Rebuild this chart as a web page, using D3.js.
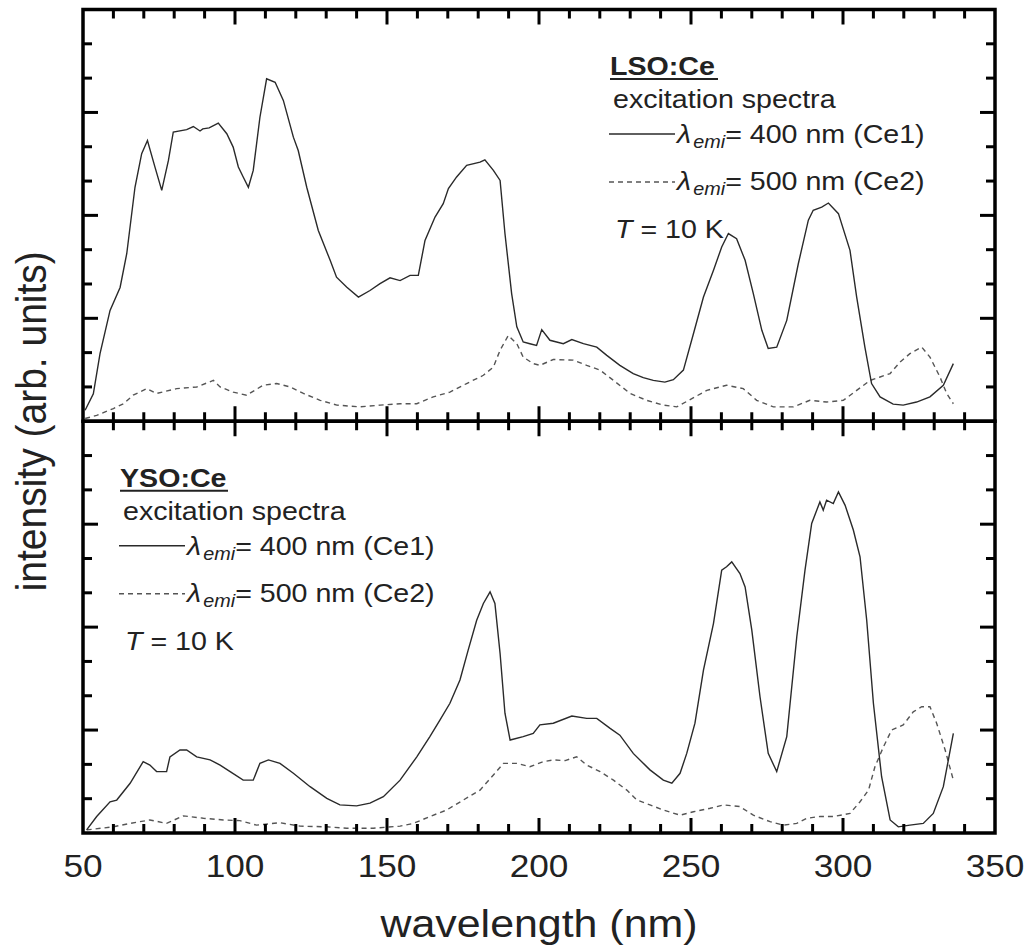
<!DOCTYPE html>
<html>
<head>
<meta charset="utf-8">
<script src="https://cdn.jsdelivr.net/npm/d3@7"></script>
<style>
  html, body { margin: 0; padding: 0; background: #fff; }
  svg { display: block; }
  text { font-family: "Liberation Sans", Arial, sans-serif; fill: #222; }
</style>
</head>
<body>
<svg id="chart" width="1031" height="947"></svg>
<script>
// ---------------- data (wavelength nm, intensity arb. units) ----------------
const xTickLabels = [50, 100, 150, 200, 250, 300, 350];

const lsoCe1 = [[50.7,0.32],[53.4,0.8],[55.6,1.97],[58.9,3.23],[62.2,3.9],[64.4,4.89],[67.1,6.82],[69.3,7.8],[71.2,8.18],[73.7,7.4],[75.9,6.73],[78.1,7.6],[79.7,8.43],[84.1,8.5],[86.3,8.59],[88.5,8.46],[89.4,8.52],[91.5,8.55],[94.5,8.69],[97.3,8.38],[99.4,7.99],[101.1,7.41],[102.7,7.12],[104.4,6.82],[106,7.31],[108.2,8.86],[110.4,9.98],[113.2,9.88],[115.9,9.35],[119.2,8.28],[120.8,7.89],[123.6,6.82],[127.4,5.56],[131.3,4.69],[133.4,4.2],[136.7,3.91],[140.6,3.62],[144.4,3.81],[147.7,4.01],[151,4.18],[154.3,4.1],[157.6,4.25],[160.3,4.25],[162.5,5.27],[165.8,5.95],[168.5,6.34],[170.2,6.78],[172.9,7.12],[176.2,7.46],[180.6,7.55],[182.2,7.62],[185,7.31],[187.2,7.02],[188.8,5.47],[191,3.72],[192.7,2.75],[194.8,2.31],[197,2.26],[199.2,2.21],[200.9,2.67],[203.6,2.36],[208,2.26],[210.8,2.38],[214.6,2.26],[219,2.16],[222.3,1.92],[226.6,1.63],[231,1.39],[234.3,1.27],[237.6,1.19],[241.4,1.14],[244.2,1.21],[247.5,1.49],[250.8,2.55],[254.1,3.62],[257.4,4.4],[260.1,5.08],[262.3,5.47],[265,5.32],[267.8,4.69],[270.5,3.72],[273.3,2.65],[275.4,2.12],[278.2,2.16],[281.5,2.94],[285.3,4.59],[288.6,5.86],[290.2,6.15],[293,6.24],[295.2,6.36],[298.5,6.05],[302.3,4.98],[304.5,3.62],[307.2,2.16],[309.4,1.1],[312.2,0.71],[316.5,0.5],[319.8,0.47],[324.2,0.56],[328.6,0.71],[333,1.05],[336.3,1.68]];

const lsoCe2 = [[50.7,0.08],[54.5,0.17],[60,0.37],[63.3,0.51],[66.5,0.76],[71,0.95],[74.2,0.81],[80.8,0.95],[87.4,1.0],[92.9,1.19],[95.1,1.0],[99.4,0.85],[103.8,0.76],[109.3,1.05],[113.7,1.1],[118.1,1.0],[122.5,0.81],[128,0.61],[133.5,0.47],[141.1,0.42],[147.7,0.47],[154.3,0.51],[159.8,0.51],[165.2,0.71],[170.7,0.85],[176.2,1.1],[181.7,1.34],[185,1.58],[187.2,2.07],[189.9,2.5],[192.7,2.26],[194.8,1.87],[198.1,1.68],[200.3,1.63],[204.7,1.8],[211.3,1.78],[215.7,1.63],[220.1,1.49],[224.5,1.19],[230,0.81],[235.4,0.61],[240.9,0.47],[245.3,0.42],[249.7,0.63],[255.2,0.9],[261.7,1.05],[267.2,0.95],[271.6,0.61],[277.1,0.42],[283.7,0.42],[289.1,0.61],[294.6,0.56],[300.1,0.61],[304.5,0.9],[308.9,1.19],[312.2,1.29],[315.5,1.39],[318.8,1.73],[322,1.97],[325.9,2.16],[328.6,1.87],[331.9,1.29],[334.1,0.81],[336.3,0.51]];

const ysoCe1 = [[51.2,0.09],[54.5,0.48],[58.9,0.91],[61.1,0.96],[65.5,1.45],[69.8,2.08],[72,1.98],[74.2,1.79],[77.5,1.79],[78.6,2.22],[81.9,2.42],[84.1,2.42],[87.4,2.22],[91.8,2.13],[95.1,1.98],[98.4,1.79],[102.7,1.54],[106,1.54],[108.2,2.03],[111,2.13],[114.8,2.03],[119.2,1.74],[124.7,1.35],[130.2,1.01],[134.5,0.82],[140,0.79],[144.4,0.87],[148.8,1.06],[154.3,1.54],[159.8,2.22],[164.1,2.81],[167.4,3.29],[170.7,3.78],[174,4.46],[176.7,5.33],[179.5,6.2],[181.7,6.69],[183.9,7.03],[185.5,6.69],[187.2,5.23],[188.8,3.49],[190.5,2.71],[194.8,2.81],[198.1,2.9],[200.3,3.15],[204.7,3.2],[210.8,3.41],[215.7,3.34],[219,3.34],[223.4,3.05],[226.6,2.85],[231,2.32],[236.5,1.84],[240.9,1.54],[243.7,1.45],[246.4,1.74],[248.6,2.32],[251.3,3.2],[254.1,4.75],[257.4,6.11],[260.1,7.66],[261.7,7.76],[263.4,7.9],[266.1,7.56],[267.8,7.17],[270,5.91],[272.7,3.97],[275.4,2.32],[278.2,1.79],[281.5,2.81],[284.8,5.72],[287.5,7.66],[289.7,9.02],[292.4,9.65],[293.5,9.41],[294.6,9.7],[296.8,9.6],[298.5,9.94],[300.7,9.55],[303.4,8.83],[305.6,8.05],[307.8,6.2],[310,3.78],[312.7,1.64],[315.5,0.38],[318.2,0.18],[322,0.23],[326.4,0.28],[329.7,0.57],[333,1.35],[336.3,2.9]];

const ysoCe2 = [[51.2,0.09],[60,0.18],[65.5,0.28],[72,0.38],[77.5,0.28],[83,0.5],[89.6,0.43],[96.2,0.38],[101.6,0.36],[107.1,0.23],[114.8,0.3],[121.4,0.2],[130.2,0.18],[136.7,0.14],[145.5,0.14],[154.3,0.2],[158.7,0.28],[164.1,0.48],[169.6,0.67],[175.1,0.96],[180.6,1.25],[185,1.69],[188.3,2.03],[192.7,2.03],[197,1.93],[201.4,2.08],[204.7,2.13],[208.6,2.11],[212.4,2.22],[215.7,1.98],[220.1,1.79],[224.5,1.54],[228.9,1.25],[232.2,0.96],[236.5,0.82],[240.9,0.67],[246.4,0.52],[250.8,0.62],[256.3,0.72],[260.7,0.82],[266.1,0.77],[270.5,0.52],[276,0.33],[280.4,0.23],[284.8,0.28],[288.1,0.43],[292.4,0.48],[296.8,0.48],[302.3,0.57],[305.6,0.91],[308.4,1.25],[310.5,1.93],[313.3,2.51],[316,3.0],[319.8,3.15],[323.1,3.53],[325.9,3.68],[328.6,3.68],[330.8,3.2],[333.6,2.42],[336.3,1.54]];

const panels = [
  { name: "LSO:Ce", ce1: lsoCe1, ce2: lsoCe2, legendX: 610 },
  { name: "YSO:Ce", ce1: ysoCe1, ce2: ysoCe2, legendX: 120 }
];
const legendLines = ["excitation spectra", "= 400 nm (Ce1)", "= 500 nm (Ce2)", " = 10 K"];

// ---------------- layout ----------------
const svg = d3.select("#chart");
const plotLeft = 83, plotRight = 995, plotTop = 9.5, panelH = 411.75;
const SX = 1.1; // horizontal text stretch seen in reference

const x = d3.scaleLinear().domain([50, 350]).range([plotLeft, plotRight]);
const xMinor = d3.range(50, 351, 10);
const yMinor = d3.range(0, 13, 1);

function stretchedText(g, tx, ty, size, str, opts = {}) {
  const t = g.append("text")
    .attr("transform", `translate(${tx},${ty}) scale(${SX},1)` + (opts.rotate ? ` rotate(${opts.rotate})` : ""))
    .attr("font-size", size)
    .attr("text-anchor", opts.anchor || "start");
  if (opts.weight) t.attr("font-weight", opts.weight);
  if (str !== null) t.text(str);
  return t;
}

panels.forEach((p, i) => {
  const y0 = plotTop + i * panelH;
  const y = d3.scaleLinear().domain([0, 12]).range([y0 + panelH, y0]);
  const g = svg.append("g");

  const clipId = "clip" + i;
  svg.append("clipPath").attr("id", clipId)
    .append("rect").attr("x", plotLeft).attr("y", y0).attr("width", plotRight - plotLeft).attr("height", panelH);

  const line = d3.line().x(d => x(d[0])).y(d => y(d[1]));
  g.append("path").datum(p.ce2).attr("d", line)
    .attr("clip-path", `url(#${clipId})`)
    .attr("fill", "none").attr("stroke", "#555").attr("stroke-width", 1.4)
    .attr("stroke-dasharray", "5,4");
  g.append("path").datum(p.ce1).attr("d", line)
    .attr("clip-path", `url(#${clipId})`)
    .attr("fill", "none").attr("stroke", "#2a2a2a").attr("stroke-width", 1.4);

  // axes with inward ticks
  const tickLen = v => (v % 50 === 0 ? 15 : 9);
  const ytickLen = v => (v % 3 === 0 ? 15 : 9);
  const axes = g.append("g").attr("stroke", "#000").attr("stroke-width", 3);
  const xt = xMinor.filter(v => v > 50 && v < 350);
  axes.selectAll(null).data(xt).enter().append("line")
    .attr("x1", d => x(d)).attr("x2", d => x(d))
    .attr("y1", y(0)).attr("y2", d => y(0) - tickLen(d));
  axes.selectAll(null).data(xt).enter().append("line")
    .attr("x1", d => x(d)).attr("x2", d => x(d))
    .attr("y1", y(12)).attr("y2", d => y(12) + tickLen(d));
  const yt = yMinor.filter(v => v > 0 && v < 12);
  axes.selectAll(null).data(yt).enter().append("line")
    .attr("x1", plotLeft).attr("x2", d => plotLeft + ytickLen(d))
    .attr("y1", d => y(d)).attr("y2", d => y(d));
  axes.selectAll(null).data(yt).enter().append("line")
    .attr("x1", plotRight).attr("x2", d => plotRight - ytickLen(d))
    .attr("y1", d => y(d)).attr("y2", d => y(d));

  g.append("rect").attr("x", plotLeft).attr("y", y0).attr("width", plotRight - plotLeft).attr("height", panelH)
    .attr("fill", "none").attr("stroke", "#000").attr("stroke-width", 3.5);

  // legend
  const lx = p.legendX;
  const lg = g.append("g");
  stretchedText(lg, lx, y0 + 65.5, 26, p.name, { weight: "bold" });
  lg.append("line").attr("x1", lx).attr("x2", lx + 108)
    .attr("y1", y0 + 69.5).attr("y2", y0 + 69.5).attr("stroke", "#222").attr("stroke-width", 2.2);
  stretchedText(lg, lx + 3, y0 + 98.5, 26, legendLines[0]);

  [[legendLines[1], null, 124.5, 133.5], [legendLines[2], "5,4", 172.5, 180.5]].forEach(([txt, dash, ly, tb]) => {
    const s = lg.append("line").attr("x1", lx - 1).attr("x2", lx + 65)
      .attr("y1", y0 + ly).attr("y2", y0 + ly)
      .attr("stroke", dash ? "#555" : "#2a2a2a").attr("stroke-width", 1.4);
    if (dash) s.attr("stroke-dasharray", dash);
    const t = stretchedText(lg, lx + 67, y0 + tb, 26, null);
    t.append("tspan").attr("font-style", "italic").text("λ");
    t.append("tspan").attr("font-style", "italic").attr("font-size", 18).attr("dy", 5).attr("dx", 2).text("emi");
    t.append("tspan").attr("dy", -5).text(txt);
  });
  const tt = stretchedText(lg, lx + 5, y0 + 228.5, 26, null);
  tt.append("tspan").attr("font-style", "italic").text("T");
  tt.append("tspan").text(legendLines[3]);
});

// x tick labels
const bottomY = plotTop + 2 * panelH;
xTickLabels.forEach(v => {
  stretchedText(svg, x(v), bottomY + 44, 32, String(v), { anchor: "middle" });
});

// axis titles
stretchedText(svg, (plotLeft + plotRight) / 2, 937, 39, "wavelength (nm)", { anchor: "middle" });
stretchedText(svg, 46, plotTop + panelH, 39, "intensity (arb. units)", { anchor: "middle", rotate: -90 });
</script>
</body>
</html>
